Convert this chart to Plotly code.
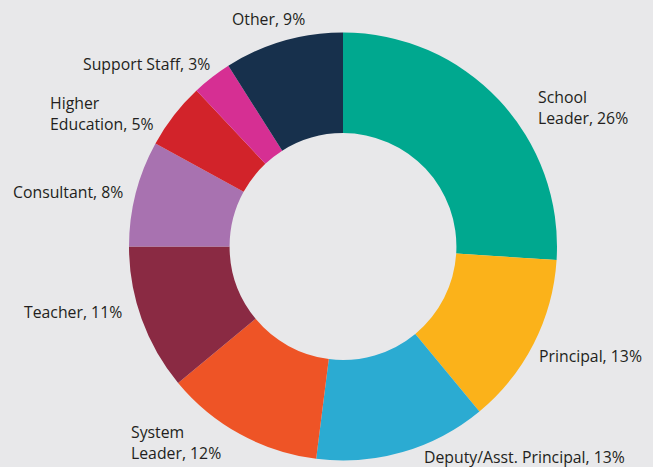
import plotly.graph_objects as go

categories = ["School Leader", "Principal", "Deputy/Asst. Principal", "System Leader",
              "Teacher", "Consultant", "Higher Education", "Support Staff", "Other"]
label_text = ["School<br>Leader", "Principal", "Deputy/Asst. Principal", "System<br>Leader",
              "Teacher", "Consultant", "Higher<br>Education", "Support Staff", "Other"]
values = [26, 13, 13, 12, 11, 8, 5, 3, 9]

colors = ["#00a88f", "#fbb21a", "#2babd2", "#ee5426", "#8a2a43",
          "#a872b0", "#d2232a", "#d62f93", "#17304c"]

W, H = 653, 467
# label anchor positions in pixels (left x, middle y)
label_pos = [(536, 108), (537, 356), (422, 457), (129, 442), (22, 312),
             (11, 192), (48, 113), (81, 64), (230, 19)]

fig = go.Figure(go.Pie(
    labels=categories, values=values, sort=False, direction="clockwise",
    hole=0.53, marker=dict(colors=colors, line=dict(width=0)),
    textinfo="none", hoverinfo="label+percent",
    domain=dict(x=[129 / W, 557 / W], y=[1 - 461 / H, 1 - 32 / H]),
    showlegend=False,
))

annotations = []
for txt, v, (px, py) in zip(label_text, values, label_pos):
    annotations.append(dict(
        text=f"{txt}, {v}%", x=px / W, y=1 - py / H, xref="paper", yref="paper",
        xanchor="left", yanchor="middle", align="left", showarrow=False,
        font=dict(family="Open Sans", size=15.8, color="#231f20"),
    ))

fig.update_layout(
    width=W, height=H, margin=dict(l=0, r=0, t=0, b=0),
    paper_bgcolor="#e8e8ea", plot_bgcolor="#e8e8ea",
    annotations=annotations,
)
fig.write_html("out.html", config={"displayModeBar": False},
               post_script="document.body.style.margin='0';document.body.style.overflow='hidden';")
